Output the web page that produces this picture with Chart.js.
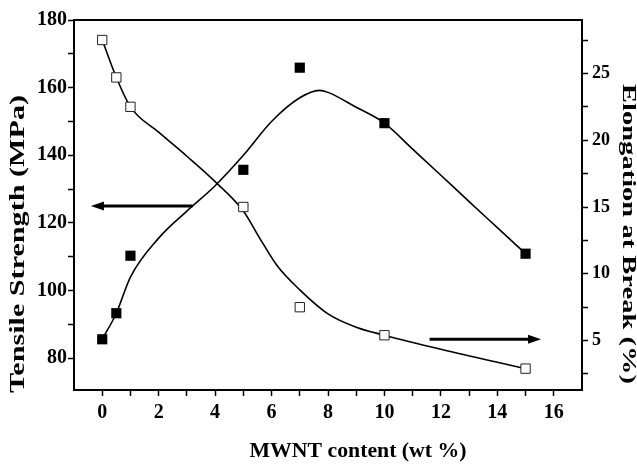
<!DOCTYPE html>
<html><head><meta charset="utf-8">
<script src="https://cdn.jsdelivr.net/npm/chart.js@4.4.0/dist/chart.umd.min.js"></script>
<style>html,body{margin:0;padding:0;background:#fff}#wrap{width:637px;height:466px;position:relative}</style>
</head><body><div id="wrap"><canvas id="c"></canvas></div>
<script>
// ---- data ----
const wtPercent = [0, 0.5, 1, 5, 7, 10, 15];
const tensileStrength = [85.6, 93.3, 110.3, 135.7, 165.9, 149.5, 110.9];
const elongation = [27.5, 24.7, 22.5, 15.0, 7.5, 5.4, 2.9];

// fitted curves as drawn in the figure (sampled by eye)
const tensileFitX = [0, 0.5, 1, 2, 3, 4, 5, 6, 7, 7.7, 8, 9, 10, 11, 12, 13, 14, 15];
const tensileFitY = [85.6, 93.3, 104, 115.5, 123.5, 131, 140, 150, 157, 159.2, 158.6, 154.2, 149.5, 141.8, 134.1, 126.3, 118.6, 110.9];
const elongFitX = [0, 0.5, 1, 2, 3, 4, 5, 5.6, 6.2, 7, 8, 9, 10, 12, 15];
const elongFitY = [27.5, 24.7, 22.5, 20.6, 18.8, 16.9, 14.7, 12.6, 10.6, 8.8, 7.0, 6.0, 5.4, 4.35, 2.9];

// ticks
const xTicks = [0, 1, 2, 3, 4, 5, 6, 7, 8, 9, 10, 11, 12, 13, 14, 15, 16];
const leftTicks = [80, 90, 100, 110, 120, 130, 140, 150, 160, 170, 180];
const rightTicks = [2.5, 5, 7.5, 10, 12.5, 15, 17.5, 20, 22.5, 25, 27.5];

// arrows (data units): [tailX, tipX, yValue]
const leftArrow = [3.2, -0.4, 125];   // on left axis
const rightArrow = [11.6, 15.55, 5.1]; // on right axis

const xTitle = 'MWNT content (wt %)';
const leftTitle = 'Tensile Strength (MPa)';
const rightTitle = 'Elongation at Break (%)';

const FONT = '"Liberation Serif", "Times New Roman", serif';

const pts = (xs, ys) => xs.map((x, i) => ({x: x, y: ys[i]}));

const decor = {
  id: 'decor',
  afterDatasetsDraw(chart) {
    const ctx = chart.ctx, a = chart.chartArea;
    const sx = chart.scales.x, sl = chart.scales.y, sr = chart.scales.y2;
    ctx.save();
    // frame
    ctx.strokeStyle = '#000'; ctx.lineWidth = 2;
    ctx.strokeRect(a.left, a.top, a.right - a.left, a.bottom - a.top);
    // arrows
    const arrow = (x0, x1, y) => {
      ctx.lineWidth = 3;
      const dir = Math.sign(x1 - x0);
      ctx.beginPath(); ctx.moveTo(x0, y); ctx.lineTo(x1 - dir * 10, y); ctx.stroke();
      ctx.beginPath(); ctx.moveTo(x1, y); ctx.lineTo(x1 - dir * 13, y - 4.5); ctx.lineTo(x1 - dir * 13, y + 4.5); ctx.closePath(); ctx.fillStyle = '#000'; ctx.fill();
    };
    arrow(sx.getPixelForValue(leftArrow[0]), sx.getPixelForValue(leftArrow[1]), sl.getPixelForValue(leftArrow[2]));
    arrow(sx.getPixelForValue(rightArrow[0]), sx.getPixelForValue(rightArrow[1]), sr.getPixelForValue(rightArrow[2]));
    ctx.restore();
  },
  afterDraw(chart) {
    const ctx = chart.ctx;
    ctx.save();
    ctx.fillStyle = '#000';
    ctx.textAlign = 'center'; ctx.textBaseline = 'middle';
    const drawText = (text, cx, cy, rot, size, len) => {
      ctx.save();
      ctx.font = 'bold ' + size + 'px ' + FONT;
      const w = ctx.measureText(text).width;
      ctx.translate(cx, cy); ctx.rotate(rot);
      ctx.scale(len / w, 1);
      ctx.fillText(text, 0, 0);
      ctx.restore();
    };
    drawText(xTitle, 358, 451, 0, 22, 217);
    drawText(leftTitle, 19, 244, -Math.PI / 2, 21, 298);
    drawText(rightTitle, 628, 234, Math.PI / 2, 18, 300);
    ctx.restore();
  }
};

new Chart(document.getElementById('c'), {
  type: 'scatter',
  data: {
    datasets: [
      { data: pts(tensileFitX, tensileFitY), yAxisID: 'y', showLine: true, pointRadius: 0, borderColor: '#000', borderWidth: 1.6, cubicInterpolationMode: 'monotone', order: 3 },
      { data: pts(elongFitX, elongFitY), yAxisID: 'y2', showLine: true, pointRadius: 0, borderColor: '#000', borderWidth: 1.6, cubicInterpolationMode: 'monotone', order: 3 },
      { label: 'Tensile Strength', data: pts(wtPercent, tensileStrength), yAxisID: 'y', pointStyle: 'rect', pointRadius: 7.2, backgroundColor: '#000', borderColor: '#000', borderWidth: 0, order: 1 },
      { label: 'Elongation at Break', data: pts(wtPercent, elongation), yAxisID: 'y2', pointStyle: 'rect', pointRadius: 6.6, backgroundColor: '#fff', borderColor: '#222', borderWidth: 1, order: 1 }
    ]
  },
  options: {
    responsive: true, maintainAspectRatio: false, animation: false,
    layout: { padding: { top: 20, left: 0, right: 0, bottom: 0 } },
    plugins: { legend: { display: false }, tooltip: { enabled: false } },
    scales: {
      x: {
        type: 'linear', min: -1, max: 17,
        afterBuildTicks: s => { s.ticks = xTicks.map(v => ({ value: v })); },
        afterFit: s => { s.height = 76; },
        ticks: { callback: v => (v % 2 === 0 ? String(v) : ''), font: { family: FONT, size: 20, weight: 'bold' }, color: '#000', padding: 5, maxRotation: 0, autoSkip: false },
        grid: { drawOnChartArea: false, tickLength: 6, tickWidth: 1.5, tickColor: '#000' },
        border: { color: '#000', width: 2 }
      },
      y: {
        position: 'left', min: 70.6, max: 180,
        afterBuildTicks: s => { s.ticks = leftTicks.map(v => ({ value: v })); },
        afterFit: s => { s.width = 74; },
        ticks: { callback: v => (v % 20 === 0 ? String(v) : ''), font: { family: FONT, size: 20, weight: 'bold' }, color: '#000', padding: 1, autoSkip: false },
        grid: { drawOnChartArea: false, tickLength: 6, tickWidth: 1.5, tickColor: '#000' },
        border: { color: '#000', width: 2 }
      },
      y2: {
        position: 'right', min: 1.3, max: 29,
        afterBuildTicks: s => { s.ticks = rightTicks.map(v => ({ value: v })); },
        afterFit: s => { s.width = 55; },
        ticks: { callback: v => (v % 5 === 0 ? String(v) : ''), font: { family: FONT, size: 18, weight: 'bold' }, color: '#000', padding: 4, autoSkip: false },
        grid: { drawOnChartArea: false, tickLength: 6, tickWidth: 1.5, tickColor: '#000' },
        border: { color: '#000', width: 2 }
      }
    }
  },
  plugins: [decor]
});
</script>
</body></html>
